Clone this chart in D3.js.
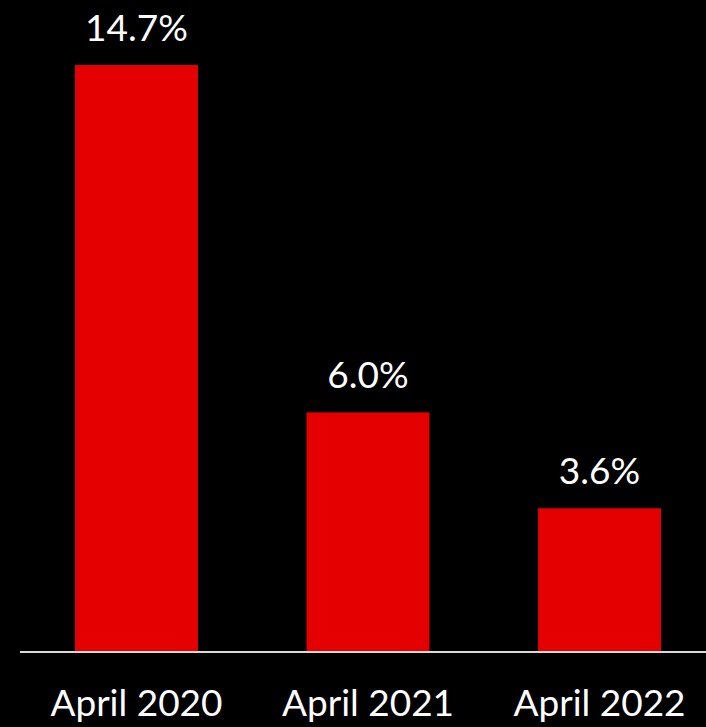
<!DOCTYPE html>
<html>
<head>
<meta charset="utf-8">
<script src="https://cdn.jsdelivr.net/npm/d3@7"></script>
<style>
  html, body { margin: 0; padding: 0; background: #000; }
  svg { display: block; }
  text { font-family: Lato, "Noto Sans", sans-serif; fill: #fff; }
</style>
</head>
<body>
<svg id="chart" width="706" height="727"></svg>
<script>
const categories = ["April 2020", "April 2021", "April 2022"];
const values = [14.7, 6.0, 3.6];
const valueLabels = ["14.7%", "6.0%", "3.6%"];

const width = 706, height = 727;
const baseline = 652;

const svg = d3.select("#chart");
svg.append("rect").attr("width", width).attr("height", height).attr("fill", "#000");

const x = d3.scaleBand()
  .domain(categories)
  .range([20, width])
  .paddingInner(0.469)
  .paddingOuter(0.216)
  .align(0.55);

const y = d3.scaleLinear()
  .domain([0, 14.7])
  .range([baseline, 65]);

const data = categories.map((c, i) => ({ c, v: values[i], label: valueLabels[i] }));

svg.selectAll("rect.bar")
  .data(data)
  .join("rect")
  .attr("class", "bar")
  .attr("x", d => x(d.c))
  .attr("y", d => y(d.v))
  .attr("width", x.bandwidth())
  .attr("height", d => y(0) - y(d.v))
  .attr("fill", "#e50000");

svg.selectAll("text.value")
  .data(data)
  .join("text")
  .attr("class", "value")
  .attr("x", d => x(d.c) + x.bandwidth() / 2)
  .attr("y", d => y(d.v) - 24)
  .attr("text-anchor", "middle")
  .attr("font-size", 37)
  .attr("font-weight", 400)
  .text(d => d.label);

// baseline axis
const axis = d3.axisBottom(x).tickSize(0).tickPadding(0);
const g = svg.append("g").attr("transform", `translate(0,${baseline})`).call(axis);
g.select(".domain").attr("stroke", "#d9d9d9").attr("stroke-width", 2).attr("d", `M20,0H${width}`);
g.selectAll(".tick text")
  .attr("y", 64)
  .attr("dy", 0)
  .attr("font-size", 37)
  .attr("font-weight", 400)
  .attr("font-family", "Lato, 'Noto Sans', sans-serif")
  .attr("fill", "#fff");
</script>
</body>
</html>
